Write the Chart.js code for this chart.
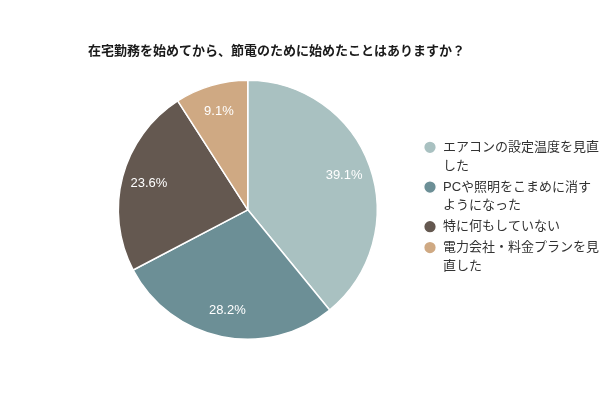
<!DOCTYPE html>
<html>
<head>
<meta charset="utf-8">
<script src="https://cdn.jsdelivr.net/npm/chart.js@4.4.1/dist/chart.umd.min.js"></script>
<style>
  html, body { margin: 0; padding: 0; background: #fff; }
  .chart-box { width: 600px; height: 400px; }
</style>
</head>
<body>
<div class="chart-box">
  <canvas id="powerSavingPie"></canvas>
</div>
<script>
  const chartTitle = "在宅勤務を始めてから、節電のために始めたことはありますか？";
  // legend labels, already broken where the original wraps them
  const answers = [
    ["エアコンの設定温度を見直", "した"],
    ["PCや照明をこまめに消す", "ようになった"],
    ["特に何もしていない"],
    ["電力会社・料金プランを見", "直した"],
  ];
  const shares = [39.1, 28.2, 23.6, 9.1]; // percent
  const sliceColors = ["#a9c1c1", "#6c8f96", "#645850", "#cfa983"];

  const fontFamily = "'Liberation Sans', 'Noto Sans CJK JP', sans-serif";

  //writes the percentage inside every slice
  const sliceLabels = {
    id: "sliceLabels",
    afterDatasetsDraw(chart) {
      const ctx = chart.ctx;
      const meta = chart.getDatasetMeta(0);
      ctx.save();
      ctx.font = "13px " + fontFamily;
      ctx.fillStyle = "#ffffff";
      ctx.textAlign = "center";
      ctx.textBaseline = "middle";
      meta.data.forEach((arc, i) => {
        const p = arc.getProps(["x", "y", "startAngle", "endAngle", "outerRadius"], true);
        const mid = (p.startAngle + p.endAngle) / 2;
        const r = p.outerRadius * 0.79;
        ctx.fillText(shares[i].toFixed(1) + "%", p.x + Math.cos(mid) * r, p.y + Math.sin(mid) * r);
      });
      ctx.restore();
    },
  };

  //the title in the original starts a bit right of the pie's box
  const titleNudge = {
    id: "titleNudge",
    afterLayout(chart) {
      if (chart.titleBlock) {
        chart.titleBlock.left += 14;
        chart.titleBlock.right += 14;
      }
    },
  };

  const ctx = document.getElementById("powerSavingPie").getContext("2d");

  const powerSavingPie = new Chart(ctx, {
    type: "pie",
    data: {
      labels: answers,
      datasets: [
        {
          data: shares,
          backgroundColor: sliceColors,
          borderColor: "#ffffff",
          borderWidth: 1.5,
        },
      ],
    },
    options: {
      responsive: true,
      maintainAspectRatio: false,
      animation: false,
      layout: {
        padding: { left: 74, right: -9, top: 0, bottom: 60 },
      },
      plugins: {
        title: {
          display: true,
          text: chartTitle,
          align: "start",
          color: "#1a1a1a",
          font: { size: 13, weight: "bold", family: fontFamily },
          padding: { top: 44, bottom: 20 },
        },
        legend: {
          position: "right",
          fullSize: false,
          labels: {
            usePointStyle: true,
            pointStyle: "circle",
            boxHeight: 9,
            padding: 2,
            color: "#333333",
            font: { size: 13, family: fontFamily, lineHeight: 1.45 },
          },
        },
        tooltip: { enabled: false },
      },
    },
    plugins: [sliceLabels, titleNudge],
  });
</script>
</body>
</html>
